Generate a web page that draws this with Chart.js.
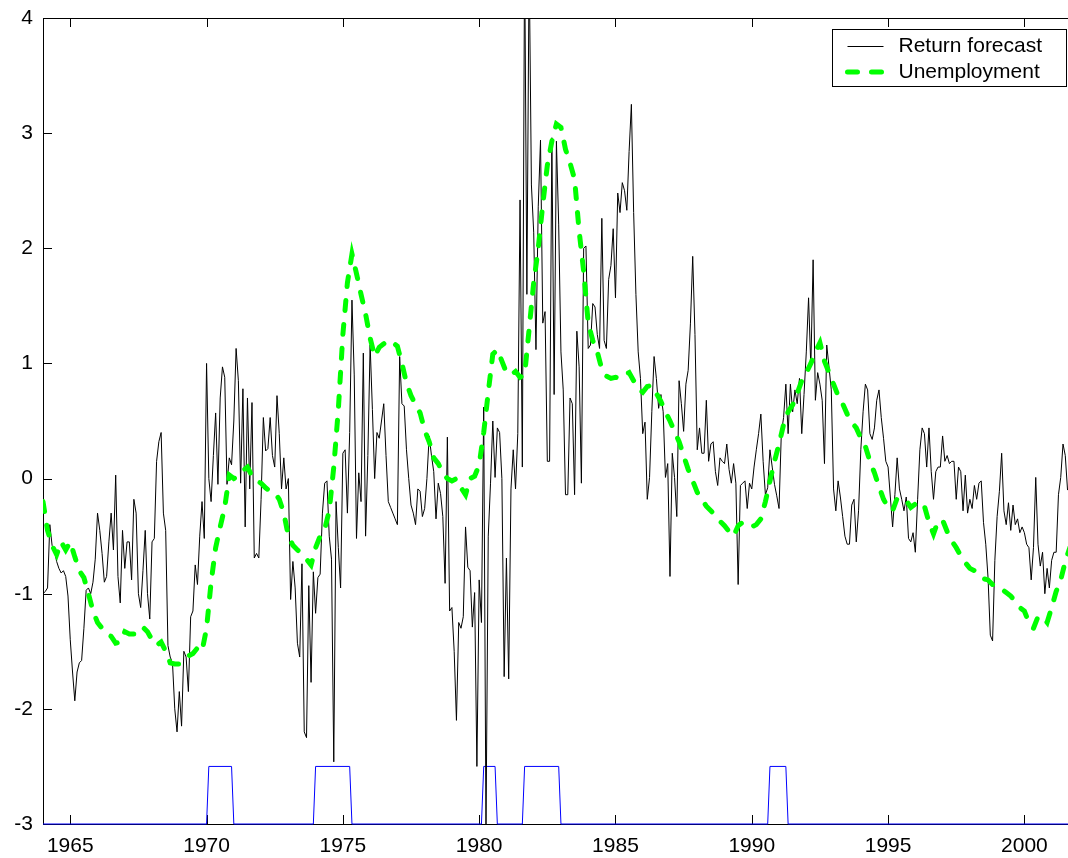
<!DOCTYPE html>
<html>
<head>
<meta charset="utf-8">
<script src="https://cdn.jsdelivr.net/npm/chart.js@4.4.1/dist/chart.umd.min.js"></script>
<style>
  html, body { margin: 0; padding: 0; background: #fff; }
  #wrap { width: 1068px; height: 858px; }
</style>
</head>
<body>
<div id="wrap"><canvas id="chart" width="1068" height="858"></canvas></div>
<script>
// ===== Data =====
const startYear = 1964;          // first monthly observation
const xMin = 1964, xMax = 2001.6;
const xTicks = [1965, 1970, 1975, 1980, 1985, 1990, 1995, 2000];
const yTicks = [-3, -2, -1, 0, 1, 2, 3, 4];

// monthly return forecast, Jan 1964 .. Aug 2001
const returnForecast = [
  -1.0, -0.98, -0.95, -0.4, -0.58, -0.62, -0.72, -0.78, -0.82, -0.8, -0.85, -1.02,   // 1964
  -1.4, -1.68, -1.93, -1.68, -1.6, -1.58, -1.3, -0.97, -0.95, -1.0, -0.9, -0.7,      // 1965
  -0.3, -0.45, -0.65, -0.9, -0.85, -0.55, -0.3, -0.62, 0.03, -0.85, -1.08, -0.45,    // 1966
  -0.78, -0.55, -0.55, -0.88, -0.18, -0.3, -1.0, -1.12, -0.8, -0.45, -1.0, -1.22,    // 1967
  -0.55, -0.52, 0.15, 0.32, 0.4, -0.3, -0.45, -1.45, -1.55, -1.6, -2.0, -2.2,        // 1968
  -1.85, -2.15, -1.5, -1.55, -1.85, -1.2, -1.15, -0.75, -0.92, -0.5, -0.2, -0.52,    // 1969
  1.0, 0.0, -0.2, 0.2, 0.57, -0.05, 0.7, 0.97, 0.88, -0.05, 0.18, 0.12,              // 1970
  0.5, 1.13, 0.85, -0.04, 0.78, -0.42, 0.7, -0.09, 0.66, -0.69, -0.65, -0.69,        // 1971
  -0.18, 0.53, 0.24, 0.26, 0.53, 0.2, 0.1, 0.72, 0.39, -0.09, 0.18, -0.09,           // 1972
  0.0, -1.05, -0.72, -0.95, -1.43, -1.55, -0.74, -2.2, -2.25, -0.93, -1.77, -0.81,   // 1973
  -1.17, -0.86, -0.83, -0.3, -0.04, -0.02, -0.5, -0.7, -2.46, -0.2, -0.6, -0.95,     // 1974
  0.22, 0.25, -0.3, 0.4, 1.55, 0.9, -0.52, 0.05, -0.2, 1.09, -0.5, 0.2,              // 1975
  1.16, 0.6, 0.0, 0.4, 0.35, 0.5, 0.65, 0.2, -0.2, -0.25, -0.3, -0.35,               // 1976
  -0.4, 1.06, 0.65, 0.63, 0.25, 0.0, -0.23, -0.3, -0.4, -0.09, -0.11, -0.33,         // 1977
  -0.26, 0.0, 0.37, 0.2, 0.06, -0.35, -0.04, -0.13, -0.33, -0.91, 0.36, -1.15,       // 1978
  -1.12, -1.5, -2.1, -1.25, -1.3, -1.2, -0.42, -0.77, -0.8, -1.29, -0.99, -2.5,      // 1979
  -0.88, -1.25, 0.62, -3.05, -0.5, -0.04, 0.5, 0.01, 0.44, 0.4, 0.0, -1.72,          // 1980
  -0.69, -1.74, -0.09, 0.25, -0.09, 0.39, 2.42, 0.1, 4.6, 1.6, 4.5, 2.55,            // 1981
  2.14, 1.12, 2.36, 2.94, 1.35, 1.45, 0.15, 0.15, 2.96, 0.73, 2.93, 2.21,            // 1982
  1.1, 0.77, -0.14, -0.14, 0.7, 0.65, -0.14, 1.28, 0.97, -0.04, 2.0, 2.02,           // 1983
  1.13, 1.16, 1.52, 1.49, 1.25, 1.13, 2.26, 1.2, 1.13, 1.73, 1.85, 2.17,             // 1984
  1.57, 2.48, 2.31, 2.57, 2.5, 2.33, 2.84, 3.25, 2.31, 1.6, 1.1, 0.87,               // 1985
  0.39, 0.49, -0.18, 0.01, 0.58, 1.06, 0.87, 0.61, 0.73, 0.58, 0.01, 0.13,           // 1986
  -0.85, 0.22, 0.01, -0.33, 0.85, 0.65, 0.41, 0.82, 0.94, 1.35, 1.93, 1.25,          // 1987
  0.25, 0.44, 0.22, 0.22, 0.68, 0.15, 0.3, 0.32, 0.06, -0.06, 0.18, 0.15,            // 1988
  0.13, 0.3, 0.08, -0.04, 0.13, -0.04, -0.92, -0.06, -0.04, -0.02, -0.26, -0.04,     // 1989
  -0.09, 0.1, 0.25, 0.39, 0.56, 0.15, -0.14, -0.08, 0.25, 0.1, -0.05, -0.15,         // 1990
  -0.26, 0.39, 0.53, 0.82, 0.39, 0.82, 0.58, 0.77, 0.65, 0.87, 0.39, 0.73,           // 1991
  1.1, 1.57, 0.97, 1.9, 0.68, 0.92, 0.82, 0.68, 0.13, 1.16, 0.97, 0.77,              // 1992
  -0.09, -0.28, -0.02, -0.16, -0.33, -0.5, -0.57, -0.57, -0.23, -0.18, -0.55, -0.28, // 1993
  0.25, 0.58, 0.82, 0.77, 0.39, 0.34, 0.44, 0.68, 0.77, 0.53, 0.35, 0.15,            // 1994
  0.1, -0.16, -0.42, -0.14, 0.18, -0.09, -0.18, -0.28, -0.16, -0.52, -0.55, -0.47,   // 1995
  -0.64, -0.18, 0.25, 0.44, 0.39, 0.1, 0.44, 0.06, -0.18, 0.06, 0.1, 0.1,            // 1996
  0.37, 0.15, 0.2, 0.13, 0.15, 0.15, -0.18, 0.1, 0.06, -0.28, 0.03, -0.3,            // 1997
  -0.18, -0.26, -0.06, -0.18, -0.04, -0.02, -0.38, -0.57, -0.86, -1.36, -1.41, -0.71,// 1998
  -0.33, -0.11, 0.22, -0.28, -0.4, -0.21, -0.45, -0.23, -0.4, -0.35, -0.47, -0.42,   // 1999
  -0.47, -0.57, -0.6, -0.88, -0.6, 0.01, -0.57, -0.76, -0.64, -1.0, -0.78, -0.95,    // 2000
  -0.71, -0.64, -0.64, -0.14, 0.01, 0.3, 0.2, -0.1                                   // 2001
];

// unemployment, every second month from Jan 1964
const unemployment = [
  -0.2, -0.45, -0.58, -0.66, -0.55, -0.62,      // 1964
  -0.55, -0.68, -0.8, -0.86, -1.0, -1.15,       // 1965
  -1.25, -1.3, -1.35, -1.37, -1.43, -1.42,      // 1966
  -1.33, -1.35, -1.35, -1.34, -1.29, -1.33,     // 1967
  -1.4, -1.45, -1.42, -1.5, -1.6, -1.61,        // 1968
  -1.61, -1.57, -1.54, -1.52, -1.47, -1.5,      // 1969
  -1.3, -0.9, -0.6, -0.42, -0.25, 0.03,         // 1970
  0.0, 0.02, 0.07, 0.1, 0.02, -0.02,            // 1971
  -0.04, -0.08, -0.11, -0.12, -0.18, -0.3,      // 1972
  -0.5, -0.58, -0.62, -0.65, -0.7, -0.75,       // 1973
  -0.6, -0.5, -0.44, -0.28, 0.1, 0.6,           // 1974
  1.25, 1.7, 1.95, 1.78, 1.6, 1.43,             // 1975
  1.22, 1.06, 1.14, 1.17, 1.2, 1.18,            // 1976
  1.15, 1.0, 0.83, 0.72, 0.64, 0.57,            // 1977
  0.42, 0.32, 0.18, 0.13, 0.05, 0.0,            // 1978
  -0.02, 0.0, -0.08, -0.14, 0.0, 0.02,          // 1979
  0.12, 0.4, 0.75, 1.08, 1.12, 1.02,            // 1980
  0.92, 0.9, 0.93, 0.88, 0.9, 1.3,              // 1981
  1.7, 2.0, 2.38, 2.72, 2.93, 3.08,             // 1982
  3.05, 2.86, 2.74, 2.6, 2.15, 1.8,             // 1983
  1.35, 1.2, 1.1, 0.95, 0.89, 0.87,             // 1984
  0.88, 0.87, 0.9, 0.92, 0.85, 0.78,            // 1985
  0.75, 0.8, 0.81, 0.74, 0.67, 0.58,            // 1986
  0.5, 0.41, 0.32, 0.2, 0.08, -0.02,            // 1987
  -0.12, -0.18, -0.24, -0.28, -0.32, -0.37,     // 1988
  -0.41, -0.46, -0.5, -0.41, -0.38, -0.4,       // 1989
  -0.42, -0.4, -0.35, -0.2, -0.02, 0.15,        // 1990
  0.3, 0.47, 0.58, 0.64, 0.74, 0.85,            // 1991
  0.92, 1.0, 1.1, 1.18, 1.02, 0.92,             // 1992
  0.82, 0.72, 0.65, 0.56, 0.49, 0.44,           // 1993
  0.35, 0.28, 0.15, 0.05, -0.07, -0.18,         // 1994
  -0.25, -0.28, -0.17, -0.18, -0.19, -0.25,     // 1995
  -0.22, -0.2, -0.24, -0.38, -0.48, -0.37,      // 1996
  -0.36, -0.46, -0.54, -0.6, -0.67, -0.73,      // 1997
  -0.78, -0.8, -0.85, -0.87, -0.88, -0.92,      // 1998
  -0.95, -0.96, -0.99, -1.02, -1.07, -1.12,     // 1999
  -1.15, -1.25, -1.3, -1.2, -1.2, -1.25,        // 2000
  -1.12, -0.98, -0.88, -0.72, -0.6              // 2001
];

// recession indicator (first and last month at the high level)
const recessionStart = [1970.083, 1974.0, 1980.167, 1981.667, 1990.667];
const recessionEnd   = [1970.917, 1975.25, 1980.583, 1982.917, 1991.25];
const recessionLow = -3, recessionHigh = -2.5;

// ===== Build series =====
const retPoints = returnForecast.map((v, i) => ({ x: startYear + i / 12, y: v }));
const unPoints = unemployment.map((v, i) => ({ x: startYear + i / 6, y: v }));
const recPoints = [{ x: xMin, y: recessionLow }];
recessionStart.forEach((s, i) => {
    recPoints.push({ x: s - 1 / 12, y: recessionLow });
    recPoints.push({ x: s, y: recessionHigh });
    recPoints.push({ x: recessionEnd[i], y: recessionHigh });
    recPoints.push({ x: recessionEnd[i] + 1 / 12, y: recessionLow });
});
recPoints.push({ x: xMax, y: recessionLow });

const FONT = { family: '"Liberation Sans", Arial, Helvetica, sans-serif', size: 21 };
const TICK_LEN = 9;

// box, inward tick marks
const framePlugin = {
    id: 'frame',
    beforeDatasetsDraw(chart) {
        const { ctx, chartArea: a, scales: { x, y } } = chart;
        ctx.save();
        ctx.strokeStyle = '#000';
        ctx.lineWidth = 1;
        ctx.strokeRect(a.left + 0.5, a.top + 0.5, a.right - a.left + 2, a.bottom - a.top);
        ctx.beginPath();
        x.ticks.forEach(t => {
            const px = Math.round(x.getPixelForValue(t.value)) + 0.5;
            ctx.moveTo(px, a.bottom); ctx.lineTo(px, a.bottom - TICK_LEN);
            ctx.moveTo(px, a.top); ctx.lineTo(px, a.top + TICK_LEN);
        });
        y.ticks.forEach(t => {
            const py = Math.round(y.getPixelForValue(t.value)) + 0.5;
            ctx.moveTo(a.left, py); ctx.lineTo(a.left + TICK_LEN, py);
        });
        ctx.stroke();
        ctx.restore();
    }
};

// boxed legend in the upper right corner
const legendPlugin = {
    id: 'boxLegend',
    afterDraw(chart) {
        const { ctx, chartArea: a } = chart;
        const items = chart.data.datasets.slice(0, 2);
        const w = 234, h = 57;
        const x0 = a.right - w - 1.5, y0 = a.top + 11.5;
        ctx.save();
        ctx.fillStyle = '#fff';
        ctx.fillRect(x0, y0, w, h);
        ctx.strokeStyle = '#000';
        ctx.lineWidth = 1;
        ctx.strokeRect(x0, y0, w, h);
        ctx.font = `${FONT.size}px ${FONT.family}`;
        ctx.textBaseline = 'middle';
        items.forEach((ds, i) => {
            const cy = y0 + 16 + i * 26;
            ctx.beginPath();
            ctx.strokeStyle = ds.borderColor;
            ctx.lineWidth = ds.borderWidth;
            ctx.lineCap = ds.borderCapStyle || 'butt';
            ctx.setLineDash(ds.borderDash || []);
            ctx.moveTo(x0 + 15, Math.round(cy) + (ds.borderWidth === 1 ? 0.5 : 0));
            ctx.lineTo(x0 + 51, Math.round(cy) + (ds.borderWidth === 1 ? 0.5 : 0));
            ctx.stroke();
            ctx.setLineDash([]);
            ctx.fillStyle = '#000';
            ctx.fillText(ds.label, x0 + 66, cy + 1);
        });
        ctx.restore();
    }
};

new Chart(document.getElementById('chart'), {
    type: 'line',
    data: {
        datasets: [
            { label: 'Return forecast', data: retPoints, borderColor: '#000000', borderWidth: 1,
              pointRadius: 0, tension: 0, order: 1 },
            { label: 'Unemployment', data: unPoints, borderColor: '#00ff00', borderWidth: 5,
              borderDash: [10, 14], borderCapStyle: 'round', pointRadius: 0, tension: 0, order: 0 },
            { label: 'Recession', data: recPoints, borderColor: '#0000ff', borderWidth: 1,
              pointRadius: 0, tension: 0, order: 2, clip: false }
        ]
    },
    options: {
        responsive: false,
        animation: false,
        devicePixelRatio: 1,
        layout: { padding: { top: 18, left: 0, right: 0, bottom: 0 } },
        plugins: { legend: { display: false }, tooltip: { enabled: false } },
        scales: {
            x: {
                type: 'linear', min: xMin, max: xMax,
                grid: { display: false, drawTicks: false },
                border: { display: false },
                afterBuildTicks: s => { s.ticks = xTicks.map(v => ({ value: v })); },
                afterFit: s => { s.height = 34; s.paddingLeft = 0; s.paddingRight = 0; },
                ticks: { padding: 10, color: '#000', font: FONT, maxRotation: 0, callback: v => String(v) }
            },
            y: {
                type: 'linear', min: -3, max: 4,
                grid: { display: false, drawTicks: false },
                border: { display: false },
                afterBuildTicks: s => { s.ticks = yTicks.map(v => ({ value: v })); },
                afterFit: s => { s.width = 43; s.paddingTop = 0; s.paddingBottom = 0; },
                ticks: { padding: 10, color: '#000', font: FONT, callback: v => String(v) }
            }
        }
    },
    plugins: [framePlugin, legendPlugin]
});
</script>
</body>
</html>
